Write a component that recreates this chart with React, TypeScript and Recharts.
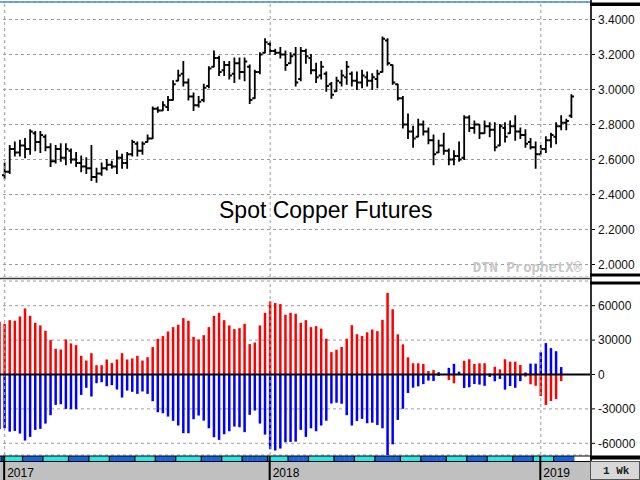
import React from 'react';
import { BarChart, Bar, XAxis, YAxis, CartesianGrid, ReferenceLine } from 'recharts';

// weekly spot copper bars ($/lb), first week of 2017 onward
const priceOpen = [
  2.51, 2.53, 2.66, 2.64, 2.68, 2.66, 2.75, 2.70, 2.73, 2.67,
  2.59, 2.66, 2.61, 2.65, 2.60, 2.58, 2.56, 2.55, 2.50, 2.52,
  2.55, 2.57, 2.56, 2.61, 2.58, 2.63, 2.69, 2.65, 2.70, 2.72,
  2.89, 2.88, 2.90, 2.94, 3.05, 3.09, 3.04, 2.96, 2.91, 2.94,
  3.02, 3.13, 3.18, 3.11, 3.14, 3.09, 3.15, 3.10, 3.13, 2.95,
  3.10, 3.21, 3.26, 3.22, 3.21, 3.20, 3.15, 3.20, 3.06, 3.22,
  3.18, 3.11, 3.08, 3.09, 3.03, 2.99, 3.04, 3.07, 3.09, 3.05,
  3.04, 3.07, 3.05, 3.06, 3.10, 3.28, 3.14, 3.03, 2.95, 2.80,
  2.76, 2.73, 2.80, 2.76, 2.71, 2.64, 2.68, 2.65, 2.60, 2.62,
  2.61, 2.84, 2.78, 2.80, 2.75, 2.79, 2.77, 2.68, 2.78, 2.75,
  2.79, 2.76, 2.74, 2.70, 2.67, 2.63, 2.66, 2.71, 2.73, 2.79,
  2.81, 2.85,
];
const priceHigh = [
  2.58, 2.68, 2.70, 2.71, 2.72, 2.77, 2.76, 2.76, 2.74, 2.69,
  2.68, 2.69, 2.69, 2.66, 2.64, 2.62, 2.61, 2.68, 2.55, 2.58,
  2.60, 2.59, 2.65, 2.63, 2.64, 2.71, 2.70, 2.70, 2.74, 2.90,
  2.90, 2.93, 2.96, 3.05, 3.11, 3.16, 3.06, 2.98, 2.96, 3.03,
  3.13, 3.22, 3.19, 3.16, 3.16, 3.18, 3.18, 3.18, 3.14, 3.11,
  3.21, 3.29, 3.27, 3.23, 3.24, 3.22, 3.21, 3.24, 3.24, 3.23,
  3.20, 3.15, 3.16, 3.10, 3.04, 3.07, 3.11, 3.16, 3.10, 3.10,
  3.11, 3.10, 3.09, 3.11, 3.30, 3.29, 3.14, 3.03, 2.96, 2.86,
  2.79, 2.83, 2.82, 2.78, 2.74, 2.71, 2.75, 2.66, 2.65, 2.70,
  2.85, 2.85, 2.82, 2.80, 2.82, 2.81, 2.81, 2.80, 2.81, 2.82,
  2.85, 2.78, 2.77, 2.72, 2.70, 2.68, 2.73, 2.75, 2.81, 2.85,
  2.83, 2.97,
];
const priceLow = [
  2.49, 2.52, 2.62, 2.62, 2.61, 2.63, 2.65, 2.64, 2.65, 2.56,
  2.58, 2.59, 2.57, 2.58, 2.56, 2.53, 2.52, 2.48, 2.47, 2.51,
  2.54, 2.55, 2.52, 2.55, 2.55, 2.62, 2.62, 2.63, 2.70, 2.72,
  2.87, 2.88, 2.88, 2.94, 3.05, 3.02, 2.94, 2.88, 2.90, 2.93,
  3.01, 3.13, 3.08, 3.08, 3.06, 3.04, 3.06, 3.05, 2.92, 2.95,
  3.09, 3.21, 3.20, 3.20, 3.18, 3.11, 3.15, 3.02, 3.05, 3.15,
  3.09, 3.04, 3.06, 2.99, 2.95, 2.99, 3.02, 3.03, 3.02, 3.00,
  3.01, 3.02, 3.00, 3.01, 3.10, 3.14, 3.03, 2.94, 2.78, 2.72,
  2.67, 2.73, 2.74, 2.69, 2.57, 2.64, 2.63, 2.57, 2.57, 2.59,
  2.60, 2.76, 2.75, 2.72, 2.75, 2.73, 2.65, 2.68, 2.70, 2.75,
  2.71, 2.72, 2.67, 2.66, 2.55, 2.63, 2.64, 2.67, 2.69, 2.77,
  2.77, 2.84,
];
const priceClose = [
  2.53, 2.66, 2.64, 2.68, 2.66, 2.76, 2.70, 2.74, 2.67, 2.59,
  2.66, 2.61, 2.66, 2.60, 2.58, 2.56, 2.55, 2.50, 2.52, 2.55,
  2.57, 2.56, 2.61, 2.58, 2.63, 2.70, 2.65, 2.69, 2.72, 2.89,
  2.88, 2.91, 2.94, 3.03, 3.08, 3.04, 2.96, 2.91, 2.93, 3.01,
  3.12, 3.18, 3.10, 3.14, 3.08, 3.15, 3.10, 3.16, 2.94, 3.10,
  3.20, 3.27, 3.22, 3.21, 3.20, 3.14, 3.19, 3.04, 3.22, 3.19,
  3.11, 3.07, 3.13, 3.02, 2.97, 3.05, 3.08, 3.13, 3.05, 3.04,
  3.08, 3.05, 3.07, 3.09, 3.29, 3.15, 3.04, 2.95, 2.80, 2.76,
  2.72, 2.80, 2.76, 2.71, 2.63, 2.68, 2.65, 2.60, 2.62, 2.60,
  2.84, 2.78, 2.80, 2.75, 2.79, 2.77, 2.67, 2.79, 2.73, 2.79,
  2.76, 2.74, 2.69, 2.67, 2.63, 2.66, 2.71, 2.74, 2.79, 2.81,
  2.82, 2.96,
];

// COT net positions (contracts), start one week earlier than the price bars
const specNet = [
  46000, 44200, 47400, 46900, 50600, 57600, 51200, 45100, 42800, 38100,
  30000, 22400, 21800, 30600, 27100, 25600, 16300, 12200, 18600, 8100,
  8100, 13100, 9900, 13100, 18600, 13100, 14000, 16300, 12200, 15100,
  23900, 31100, 33500, 37500, 41300, 43400, 49200, 46900, 32800, 30600,
  34300, 41300, 51200, 53800, 47400, 42800, 39600, 40400, 44200, 26500,
  27900, 42800, 53800, 63700, 62300, 61400, 52100, 53800, 53000, 45100,
  47400, 41300, 42200, 40000, 31200, 19500, 21600, 24000, 31200, 43000,
  35100, 33600, 36800, 39200, 37800, 47700, 71200, 56900, 35000, 26300,
  15000, 9800, 9800, 9200, 3000, 3900, -1300, -500, -4800, -7700,
  -300, 12000, 13300, 9200, 9800, 9800, 1000, 6800, 4500, 13300,
  11200, 11200, 8300, -1900, -8500, -9800, -18800, -26600, -23100, -21400,
  -5700,
];
const commNet = [
  -47700, -46900, -49800, -49200, -51500, -57600, -54400, -48300, -47400, -42800,
  -35500, -26500, -25900, -30000, -30300, -30300, -17800, -11600, -19200, -7600,
  -6700, -10200, -9300, -13100, -20100, -14000, -15100, -16900, -14800, -16900,
  -23300, -32900, -33800, -36700, -40400, -44500, -51200, -51200, -39000, -35800,
  -40200, -46900, -54700, -57000, -52100, -49500, -45400, -46000, -50300, -35200,
  -31400, -42800, -52400, -65200, -66300, -64600, -59100, -58800, -58500, -48300,
  -54400, -46900, -49500, -44500, -40300, -25300, -24600, -25500, -35500, -44500,
  -40500, -38700, -42500, -42000, -44000, -46900, -70500, -60900, -39600, -29900,
  -16100, -11500, -10300, -8400, -5300, -5700, 2000, 500, 5800, 9300,
  2500, -11700, -11100, -8300, -8800, -9900, -2100, -5900, -3900, -13200,
  -10100, -11600, -5800, 1700, 9500, 9500, 19500, 27400, 23000, 20300,
  6500,
];

const priceTicks = [2.0, 2.2, 2.4, 2.6, 2.8, 3.0, 3.2, 3.4];
const cotTicks = [-60000, -30000, 0, 30000, 60000];

const weekCount = priceOpen.length + 1;
const DAY = 864e5;

const rows = Array.from({ length: weekCount }, (_, r) => {
  const monday = new Date(Date.UTC(2016, 11, 26 + 7 * r));
  const p = r - 1;
  return {
    week: monday.toISOString().slice(0, 10),
    open: p >= 0 ? priceOpen[p] : null,
    high: p >= 0 ? priceHigh[p] : null,
    low: p >= 0 ? priceLow[p] : null,
    close: p >= 0 ? priceClose[p] : null,
    spec: r < specNet.length ? specNet[r] : null,
    comm: r < commNet.length ? commNet[r] : null,
  };
});

const yearWeeks = rows
  .filter((d, i) => i > 0 && d.week.slice(0, 4) !== rows[i - 1].week.slice(0, 4))
  .map((d) => d.week);

// layout
const PLOT_W = 593;
const PAD_R = 16;
const AXIS_W = 50;
const BAND = (PLOT_W - PAD_R) / weekCount;
const FONT = 'Liberation Sans, Arial, sans-serif';
const MONO = 'Liberation Mono, Courier New, monospace';
const GRID = '#9c9c9c';

const OhlcShape = (props: any) => {
  const { x, y, width, height, payload } = props;
  if (payload == null || payload.high == null || height == null) return <g />;
  const top = Math.min(y, y + height);
  const h = Math.abs(height);
  const span = payload.high - payload.low || 1;
  const toY = (v: number) => top + ((payload.high - v) / span) * h;
  const cx = x + width / 2;
  return (
    <g stroke="#000" strokeWidth={1.8}>
      <line x1={cx} x2={cx} y1={top - 0.5} y2={top + h + 0.5} />
      <line x1={cx - 2.6} x2={cx} y1={toY(payload.open)} y2={toY(payload.open)} />
      <line x1={cx} x2={cx + 2.6} y1={toY(payload.close)} y2={toY(payload.close)} />
    </g>
  );
};

const CotShape = (props: any) => {
  const { x, y, width, height, fill } = props;
  if (height == null || !isFinite(height)) return <g />;
  const top = Math.min(y, y + height);
  const cx = x + width / 2;
  return <rect x={cx - 1.25} y={top} width={2.5} height={Math.abs(height)} fill={fill} />;
};

const WeekTick = (props: any) => {
  const { x, y, payload } = props;
  const monday = new Date(payload.value + 'T00:00:00Z');
  const friday = new Date(monday.getTime() + 4 * DAY);
  const prevFriday = new Date(friday.getTime() - 7 * DAY);
  const month = friday.getUTCMonth();
  const newMonth = prevFriday.getUTCMonth() !== month;
  const isYear = yearWeeks.includes(payload.value);
  const left = x - BAND / 2;
  return (
    <g>
      <rect x={left} y={y + 1} width={BAND + 0.4} height={5.5} fill={month % 2 === 0 ? '#2ae6e6' : '#1466da'} />
      {newMonth && <line x1={left} x2={left} y1={y + 1} y2={y + 6.5} stroke="#000" strokeWidth={1.2} />}
      {isYear && (
        <g>
          <line x1={x - 0.5} x2={x - 0.5} y1={y + 1} y2={y + 25} stroke="#000" strokeWidth={2} />
          <text x={x + 2.5} y={y + 22} fontSize={12} fontFamily={FONT} fill="#000">
            {monday.getUTCFullYear()}
          </text>
        </g>
      )}
    </g>
  );
};

const yTick = { fontSize: 12, fontFamily: FONT, fill: '#111' };

function PricePanel() {
  return (
    <BarChart
      width={PLOT_W + AXIS_W}
      height={277}
      data={rows}
      margin={{ top: 2, right: 0, bottom: 0, left: 0 }}
      barCategoryGap={0}
    >
      <CartesianGrid horizontal vertical={false} stroke={GRID} strokeDasharray="3 3" />
      <XAxis dataKey="week" hide padding={{ left: 0, right: PAD_R }} />
      <YAxis
        orientation="right"
        width={AXIS_W}
        domain={[1.9286, 3.5]}
        ticks={priceTicks}
        allowDataOverflow
        interval={0}
        axisLine={false}
        tickLine={{ stroke: '#000' }}
        tickSize={5}
        tickMargin={3}
        tick={yTick}
        tickFormatter={(v: number) => v.toFixed(4)}
      />
      {yearWeeks.map((w) => (
        <ReferenceLine key={w} x={w} stroke={GRID} strokeDasharray="3 3" />
      ))}
      <Bar
        dataKey={(d: any) => (d.high == null ? null : [d.low, d.high])}
        shape={OhlcShape}
        isAnimationActive={false}
      />
    </BarChart>
  );
}

function CotPanel() {
  return (
    <BarChart
      width={PLOT_W + AXIS_W}
      height={201}
      data={rows}
      margin={{ top: 2, right: 0, bottom: 0, left: 0 }}
      barCategoryGap={0}
      stackOffset="sign"
    >
      <CartesianGrid horizontal vertical={false} stroke={GRID} strokeDasharray="3 3" />
      <XAxis
        dataKey="week"
        height={25}
        interval={0}
        axisLine={false}
        tickLine={false}
        tickSize={0}
        tickMargin={0}
        padding={{ left: 0, right: PAD_R }}
        tick={(p: any) => <WeekTick {...p} />}
      />
      <YAxis
        orientation="right"
        width={AXIS_W}
        domain={[-70203, 81541]}
        ticks={cotTicks}
        allowDataOverflow
        interval={0}
        axisLine={false}
        tickLine={{ stroke: '#000' }}
        tickSize={5}
        tickMargin={3}
        tick={yTick}
      />
      {yearWeeks.map((w) => (
        <ReferenceLine key={w} x={w} stroke={GRID} strokeDasharray="3 3" />
      ))}
      <Bar dataKey="spec" stackId="cot" fill="#ff0000" shape={CotShape} isAnimationActive={false} />
      <Bar dataKey="comm" stackId="cot" fill="#0000ff" shape={CotShape} isAnimationActive={false} />
      <ReferenceLine y={0} stroke="#000" strokeWidth={2} />
    </BarChart>
  );
}

export default function App() {
  return (
    <div style={{ position: 'relative', width: 640, height: 480, overflow: 'hidden', background: '#fff' }}>
      <style>{'body{margin:0}'}</style>
      <div style={{ position: 'absolute', left: 0, top: 462, width: 590, height: 18, background: '#c0c0c0' }} />
      <div style={{ position: 'absolute', left: -3, top: 0 }}>
        <PricePanel />
      </div>
      <div style={{ position: 'absolute', left: -3, top: 279 }}>
        <CotPanel />
      </div>
      <svg width={640} height={480} style={{ position: 'absolute', left: 0, top: 0, pointerEvents: 'none' }}>
        <line x1={0} x2={590} y1={2} y2={2} stroke="#4a86d8" strokeWidth={1.5} />
        <line x1={0} x2={590} y1={278.5} y2={278.5} stroke="#3a3a3a" strokeWidth={1.5} />
        <line x1={0} x2={590} y1={456} y2={456} stroke="#000" strokeWidth={1} />
        <line x1={0} x2={590} y1={461.5} y2={461.5} stroke="#000" strokeWidth={1} />
        <line x1={591} x2={591} y1={0} y2={462} stroke="#333" strokeWidth={2} />
        <rect x={590} y={2.5} width={50} height={3.5} fill="#000" />
        <rect x={590} y={273.5} width={50} height={3} fill="#000" />
        <rect x={590} y={281.5} width={50} height={3} fill="#000" />
        <rect x={590} y={455.5} width={50} height={4} fill="#000" />
        <rect x={590.5} y={461.5} width={49} height={18} fill="#d8d8d8" stroke="#555" strokeWidth={1} />
        <text x={603} y={474} fontSize={11} fontWeight="bold" fontFamily={MONO} fill="#222">
          1 Wk
        </text>
        <text x={219} y={218} fontSize={23} fontFamily={FONT} fill="#000">
          Spot Copper Futures
        </text>
        <text x={582} y={272} textAnchor="end" fontSize={14} fontWeight="bold" fontFamily={MONO} fill="#c6c6c6">
          DTN ProphetX®
        </text>
      </svg>
    </div>
  );
}
